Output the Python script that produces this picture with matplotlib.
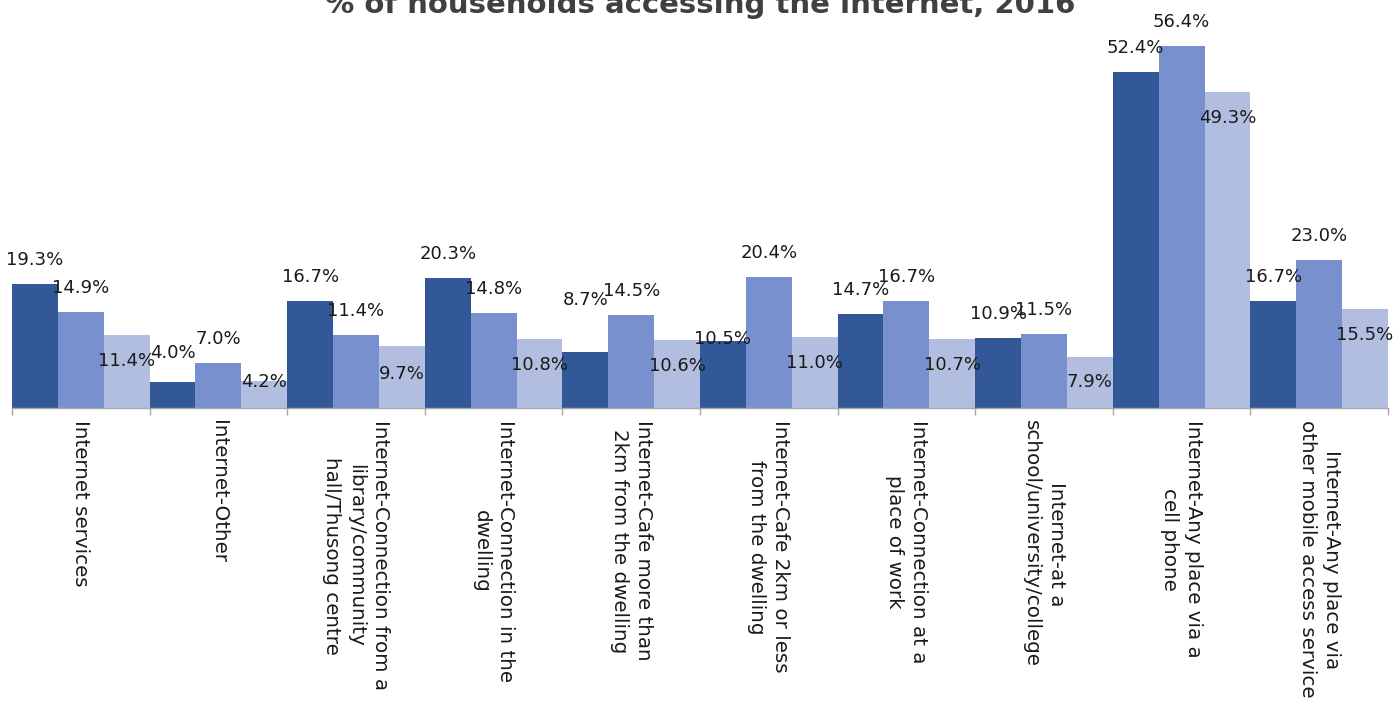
import matplotlib.pyplot as plt
import numpy as np

# Household internet access by place of access, three series per category
categories = [
    "Internet services",
    "Internet-Other",
    "Internet-Connection from a\nlibrary/community\nhall/Thusong centre",
    "Internet-Connection in the\ndwelling",
    "Internet-Cafe more than\n2km from the dwelling",
    "Internet-Cafe 2km or less\nfrom the dwelling",
    "Internet-Connection at a\nplace of work",
    "Internet-at a\nschool/university/college",
    "Internet-Any place via a\ncell phone",
    "Internet-Any place via\nother mobile access service",
]
series_a = [19.3, 4.0, 16.7, 20.3, 8.7, 10.5, 14.7, 10.9, 52.4, 16.7]
series_b = [14.9, 7.0, 11.4, 14.8, 14.5, 20.4, 16.7, 11.5, 56.4, 23.0]
series_c = [11.4, 4.2, 9.7, 10.8, 10.6, 11.0, 10.7, 7.9, 49.3, 15.5]

colors = ["#325898", "#7890CE", "#B2BEE0"]

# label offset from bar top, in pixels (positive = above)
label_shift = [24, 24, -26]
# a few labels sit elsewhere
label_override = {(0, 1): 29, (0, 4): 52, (0, 5): 2, (2, 2): -28}

fig = plt.figure(figsize=(14, 7.06), dpi=100)
ax = fig.add_axes([12 / 1400, 298 / 706, 1376 / 1400, 385 / 706])

x = np.arange(len(categories))
w = 1 / 3
all_series = [series_a, series_b, series_c]

for i, vals in enumerate(all_series):
    xs = x - 0.5 + w / 2 + i * w
    ax.bar(xs, vals, width=w, color=colors[i], edgecolor="none")
    for j, (xp, v) in enumerate(zip(xs, vals)):
        dy = label_override.get((i, j), label_shift[i])
        # keep the inside labels off the baseline
        px_top = v * 385 / 60
        if px_top + dy < 26:
            dy = 26 - px_top
        ax.annotate(f"{v:.1f}%", (xp, v), xytext=(0, dy), textcoords="offset pixels",
                    ha="center", va="center", fontsize=13, color="#1a1a1a",
                    annotation_clip=False)

ax.set_xlim(-0.5, len(categories) - 0.5)
ax.set_ylim(0, 60)

# category labels, rotated to read downwards
ax.set_xticks(x)
ax.set_xticklabels(categories, rotation=270, ha="center", va="top",
                   multialignment="center", fontsize=14.3, color="#1a1a1a",
                   linespacing=1.35)
ax.tick_params(axis="x", which="major", length=0, pad=9)
ax.set_xticks(np.arange(len(categories) + 1) - 0.5, minor=True)
ax.tick_params(axis="x", which="minor", length=5, color="#A6A6A6", width=1)

ax.set_yticks([])
for side in ["left", "right", "top"]:
    ax.spines[side].set_visible(False)
ax.spines["bottom"].set_color("#A6A6A6")
ax.spines["bottom"].set_linewidth(1)

fig.text(0.5, 1 - 13 / 706, "% of households accessing the internet, 2016",
         ha="center", va="baseline", fontsize=21, fontweight="bold", color="#404040")

fig.savefig("out.png", dpi=100)
